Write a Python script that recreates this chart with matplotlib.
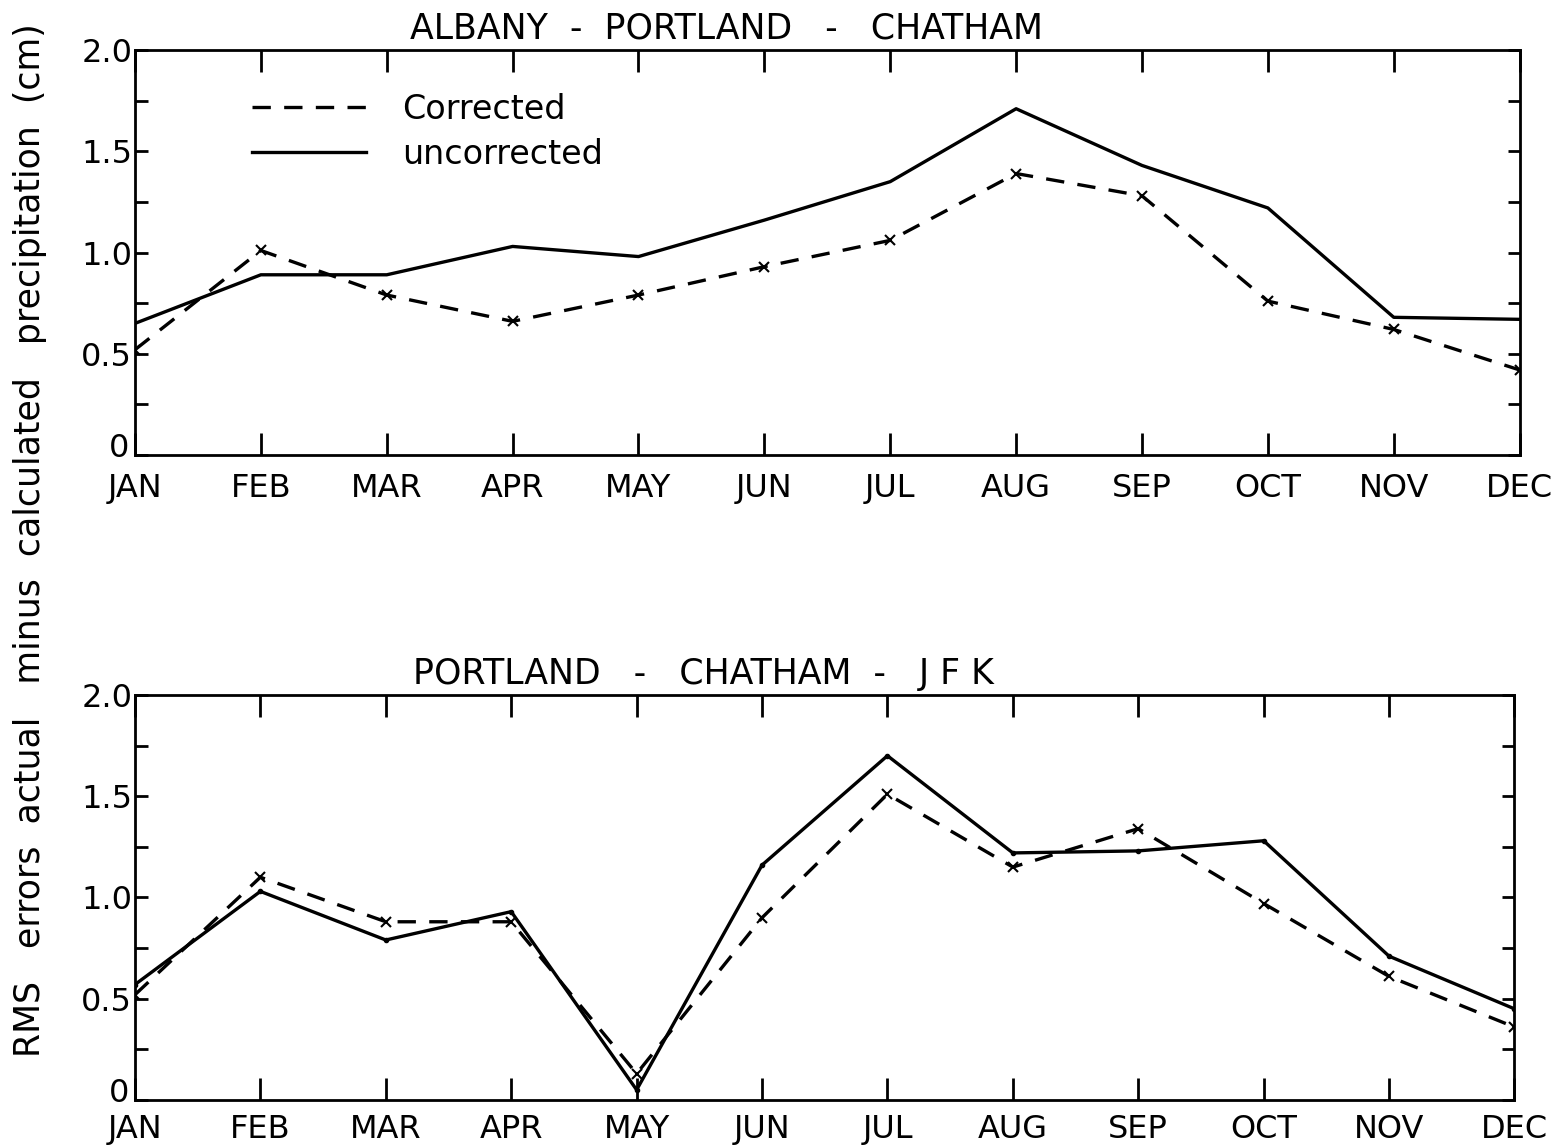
import matplotlib
matplotlib.use("Agg")
import matplotlib.pyplot as plt
import matplotlib.transforms as mtransforms
import numpy as np
from matplotlib.ticker import MultipleLocator

MONTHS = ["JAN", "FEB", "MAR", "APR", "MAY", "JUN",
          "JUL", "AUG", "SEP", "OCT", "NOV", "DEC"]

# Albany - Portland - Chatham
APC_UNCORRECTED = [0.65, 0.89, 0.89, 1.03, 0.98, 1.16, 1.35, 1.71, 1.43, 1.22, 0.68, 0.67]
APC_CORRECTED = [0.52, 1.01, 0.79, 0.66, 0.79, 0.93, 1.06, 1.39, 1.28, 0.76, 0.62, 0.42]

# Portland - Chatham - JFK
PCJ_UNCORRECTED = [0.57, 1.03, 0.79, 0.93, 0.05, 1.16, 1.70, 1.22, 1.23, 1.28, 0.71, 0.45]
PCJ_CORRECTED = [0.52, 1.10, 0.88, 0.88, 0.13, 0.90, 1.51, 1.15, 1.34, 0.97, 0.61, 0.36]

YTICKS = [0, 0.5, 1.0, 1.5, 2.0]
YTICK_LABELS = ["0", "0.5", "1.0", "1.5", "2.0"]

plt.rcParams["font.family"] = "DejaVu Sans"

DASH = (0, (5.5, 4))

fig = plt.figure(figsize=(15.57, 11.47), dpi=100)
ax_top = fig.add_axes([0.0867, 0.6033, 0.8893, 0.3531])
ax_bot = fig.add_axes([0.0867, 0.0410, 0.8860, 0.3531])


def style_panel(ax, title, title_x, label_pad):
    x = np.arange(len(MONTHS))
    ax.set_xlim(0, len(MONTHS) - 1)
    ax.set_ylim(0, 2.0)
    ax.set_xticks(x)
    ax.set_xticklabels(MONTHS, fontsize=23)
    ax.set_yticks(YTICKS)
    ax.set_yticklabels(YTICK_LABELS, fontsize=23)
    ax.yaxis.set_minor_locator(MultipleLocator(0.25))
    ax.tick_params(axis="x", which="major", direction="in", length=16, width=2,
                   top=True, bottom=True, pad=label_pad)
    ax.tick_params(axis="y", which="both", direction="in", length=9, width=2,
                   left=True, right=True, pad=2)
    for spine in ax.spines.values():
        spine.set_linewidth(2)
    ax.set_title(title, fontsize=25, pad=8, x=title_x)
    # the zero label sits just above the baseline so it clears the month names
    zero_label = ax.get_yticklabels()[0]
    lift = mtransforms.ScaledTranslation(-2 / 72, 7 / 72, fig.dpi_scale_trans)
    zero_label.set_transform(zero_label.get_transform() + lift)


x = np.arange(len(MONTHS))

ax_top.plot(x, APC_CORRECTED, color="black", linestyle=DASH, linewidth=2.4,
            label="Corrected")
ax_top.plot(x, APC_CORRECTED, color="black", linestyle="none",
            marker="x", markersize=7, markeredgewidth=1.5)
ax_top.plot(x, APC_UNCORRECTED, color="black", linestyle="-", linewidth=2.4,
            label="uncorrected")
style_panel(ax_top, "ALBANY  -  PORTLAND   -   CHATHAM", 0.427, 13)
ax_top.legend(loc="upper left", bbox_to_anchor=(0.063, 0.968), frameon=False,
              fontsize=24, handlelength=3.4, handletextpad=1.1, labelspacing=0.35)

ax_bot.plot(x, PCJ_CORRECTED, color="black", linestyle=DASH, linewidth=2.4,
            marker="x", markersize=7, markeredgewidth=1.5)
ax_bot.plot(x, PCJ_UNCORRECTED, color="black", linestyle="-", linewidth=2.4,
            marker="o", markersize=3)
style_panel(ax_bot, "PORTLAND   -   CHATHAM  -   J F K", 0.412, 10)

fig.text(0.019, 0.529,
         "RMS   errors  actual   minus  calculated   precipitation  (cm)",
         rotation=90, fontsize=25, ha="center", va="center")

fig.savefig("out.png", dpi=100)
